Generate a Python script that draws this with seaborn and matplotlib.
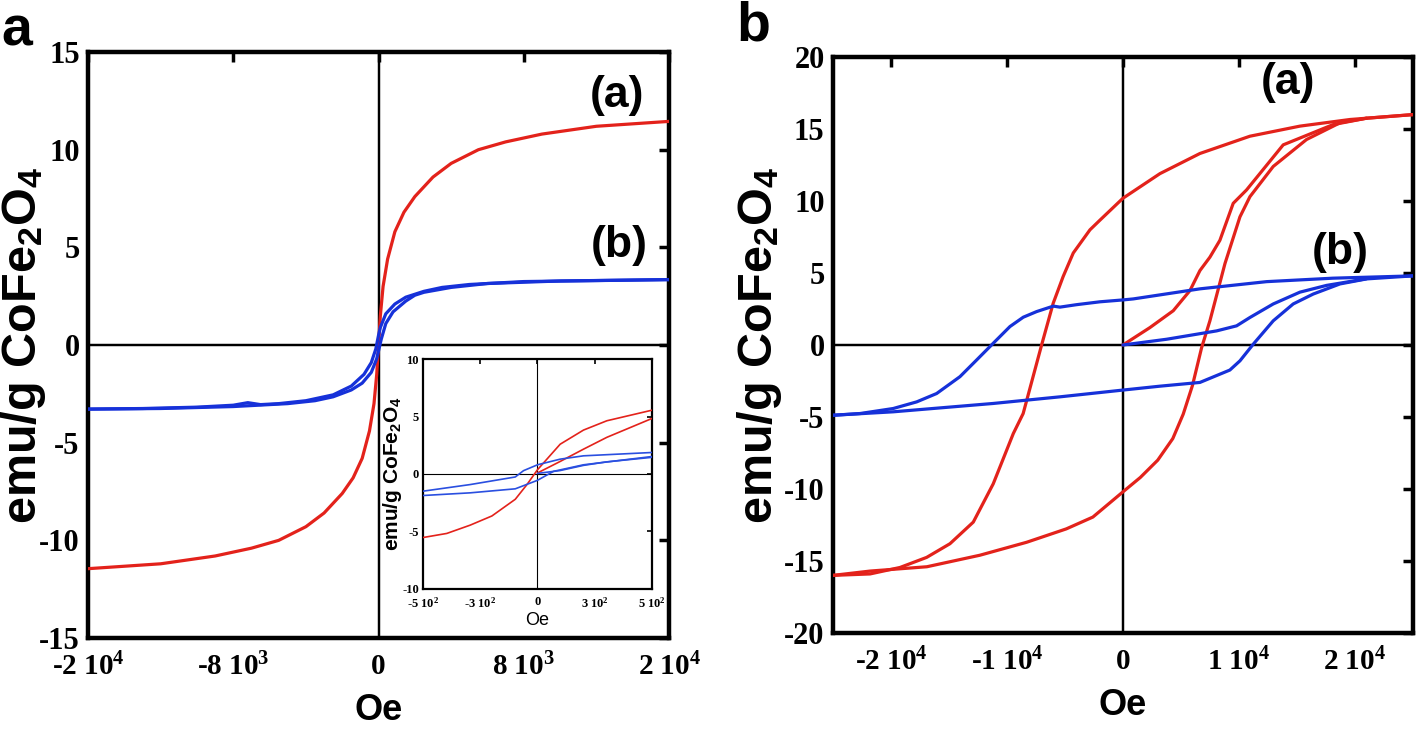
import matplotlib
matplotlib.use('Agg')
import matplotlib.pyplot as plt
import seaborn as sns

# ---- panel a, main plot (Oe vs emu/g) ----
a_red_x = [-16000, -12000, -9000, -7000, -5500, -4000, -3000, -2000, -1400, -900, -500, -250, -100, 0,
           100, 250, 500, 900, 1400, 2000, 3000, 4000, 5500, 7000, 9000, 12000, 16000]
a_red_y = [-11.45, -11.2, -10.8, -10.4, -10.0, -9.3, -8.6, -7.6, -6.8, -5.8, -4.4, -3.0, -1.5, 0,
           1.5, 3.0, 4.4, 5.8, 6.8, 7.6, 8.6, 9.3, 10.0, 10.4, 10.8, 11.2, 11.45]

a_blue_down_x = [16000, 12000, 8000, 5000, 3500, 2500, 1500, 900, 400, 100, 0, -150, -400, -800,
                 -1500, -2500, -4000, -5500, -6500, -7200, -8000, -10000, -13000, -16000]
a_blue_down_y = [3.35, 3.3, 3.25, 3.1, 2.95, 2.75, 2.45, 2.1, 1.6, 0.9, 0.5, -0.2, -0.9, -1.5,
                 -2.1, -2.55, -2.85, -3.0, -3.05, -2.95, -3.08, -3.18, -3.25, -3.28]
a_blue_up_x = [-16000, -12000, -8000, -5000, -3500, -2500, -1500, -900, -400, -100, 0, 150, 400, 800,
               1500, 2000, 2500, 4000, 6000, 10000, 16000]
a_blue_up_y = [-3.28, -3.25, -3.15, -3.0, -2.85, -2.65, -2.3, -1.95, -1.4, -0.7, -0.3, 0.3, 1.1, 1.7,
               2.25, 2.55, 2.7, 2.95, 3.15, 3.28, 3.35]

a_xticks = [-16000, -8000, 0, 8000, 16000]
a_xlabels = ['-2 10$^{4}$', '-8 10$^{3}$', '0', '8 10$^{3}$', '2 10$^{4}$']
a_yticks = [-15, -10, -5, 0, 5, 10, 15]

# ---- panel a, inset (low field) ----
in_red_x = [-498, -396, -294, -199, -97, -46, 0, 99, 201, 303, 500]
in_red_y = [-5.52, -5.17, -4.45, -3.65, -2.2, -0.92, 0.37, 2.59, 3.82, 4.63, 5.55]
in_red2_x = [0, 99, 201, 303, 500]
in_red2_y = [0.09, 1.09, 2.16, 3.19, 4.83]
in_blue1_x = [-498, -294, -97, -61, 0, 99, 201, 500]
in_blue1_y = [-1.49, -0.92, -0.26, 0.29, 0.8, 1.29, 1.58, 1.87]
in_blue2_x = [-498, -294, -97, 0, 70, 201, 500]
in_blue2_y = [-1.87, -1.64, -1.29, -0.55, 0.23, 0.8, 1.52]
in_blue3_x = [0, 99, 201, 300, 500]
in_blue3_y = [0.05, 0.3, 0.75, 1.05, 1.45]

in_xticks = [-500, -250, 0, 250, 500]
in_xlabels = ['-5 10$^{2}$', '-3 10$^{2}$', '0', '3 10$^{2}$', '5 10$^{2}$']
in_yticks = [-10, -5, 0, 5, 10]

# ---- panel b (hysteresis loops) ----
b_red_down_x = [25000, 19570, 15260, 10950, 6640, 3190, 0, -1980, -2840, -4280, -5150, -6010, -7010,
                -8600, -9450, -11180, -12900, -14910, -16920, -19220, -21800, -25000]
b_red_down_y = [16.0, 15.66, 15.2, 14.5, 13.3, 11.9, 10.19, 8.67, 8.0, 6.39, 4.76, 2.9, 0,
                -4.76, -6.15, -9.64, -12.3, -13.8, -14.75, -15.45, -15.9, -16.0]
b_red_up_x = [-25000, -21800, -16900, -12330, -8300, -4880, -2590, 0, 1500, 3000, 4300, 5200, 6000,
              6780, 7500, 8800, 10090, 10950, 12960, 15830, 18710, 21000, 25000]
b_red_up_y = [-16.0, -15.7, -15.4, -14.6, -13.7, -12.77, -11.95, -10.2, -9.2, -8.0, -6.5, -4.8, -2.8,
              -0.2, 1.68, 5.66, 8.9, 10.3, 12.4, 14.27, 15.43, 15.75, 16.0]
b_red_virgin_x = [0, 2330, 4340, 5780, 6640, 7500, 8360, 9510, 10660, 13820, 18100, 21000]
b_red_virgin_y = [0, 1.21, 2.38, 3.78, 5.17, 6.1, 7.27, 9.84, 10.77, 13.9, 15.3, 15.75]

b_blue_down_x = [25000, 18100, 12390, 6640, 3190, 890, 0, -1980, -4000, -5430, -6000, -7440, -8590,
                 -9740, -11180, -12610, -14050, -16060, -17780, -19800, -22670, -25000]
b_blue_down_y = [4.8, 4.64, 4.4, 3.9, 3.48, 3.2, 3.13, 3.0, 2.8, 2.63, 2.7, 2.32, 1.93,
                 1.28, 0.12, -1.04, -2.2, -3.37, -3.95, -4.41, -4.76, -4.88]
b_blue_up_x = [-25000, -19800, -11180, -5430, 0, 3190, 6640, 9220, 10090, 11230, 12960, 14680,
               16410, 18710, 21010, 25000]
b_blue_up_y = [-4.88, -4.64, -4.06, -3.6, -3.13, -2.86, -2.6, -1.74, -1.1, 0.05, 1.68, 2.85,
               3.54, 4.24, 4.59, 4.8]
b_blue_virgin_x = [0, 3770, 8080, 9800, 10950, 12960, 15260, 17560, 21000]
b_blue_virgin_y = [0, 0.4, 0.98, 1.33, 1.91, 2.85, 3.67, 4.14, 4.6]

b_xticks = [-20000, -10000, 0, 10000, 20000]
b_xlabels = ['-2 10$^{4}$', '-1 10$^{4}$', '0', '1 10$^{4}$', '2 10$^{4}$']
b_yticks = [-20, -15, -10, -5, 0, 5, 10, 15, 20]

RED = '#e3221b'
BLUE = '#1631d9'
YLABEL = 'emu/g CoFe$_{\\mathsf{2}}$O$_{\\mathsf{4}}$'

sns.set_style("white")
plt.rcParams['font.family'] = ['Liberation Serif', 'DejaVu Serif']
plt.rcParams['font.weight'] = 'bold'
plt.rcParams['mathtext.fontset'] = 'custom'
plt.rcParams['mathtext.rm'] = 'Liberation Serif:bold'
plt.rcParams['mathtext.sf'] = 'Liberation Sans:bold'
plt.rcParams['mathtext.default'] = 'rm'
plt.rcParams['axes.unicode_minus'] = False
for key in ['text.color', 'axes.labelcolor', 'xtick.color', 'ytick.color']:
    plt.rcParams[key] = 'black'

fig = plt.figure(figsize=(14.18, 7.30), dpi=100)


def style_axes(ax, spine_w, tick_len, tick_w, labelsize):
    for s in ax.spines.values():
        s.set_visible(True)
        s.set_linewidth(spine_w)
        s.set_color('black')
    ax.tick_params(direction='in', top=True, right=True, length=tick_len, width=tick_w,
                   labelsize=labelsize, colors='black', pad=6)
    ax.axhline(0, color='black', lw=spine_w * 0.55, zorder=1)
    ax.axvline(0, color='black', lw=spine_w * 0.55, zorder=1)
    ax.grid(False)


def draw(ax, xs, ys, color, lw):
    sns.lineplot(x=xs, y=ys, sort=False, estimator=None, color=color, linewidth=lw, ax=ax, zorder=3)


# panel a
ax1 = fig.add_axes([0.0621, 0.126, 0.4097, 0.8027])
draw(ax1, a_red_x, a_red_y, RED, 2.3)
draw(ax1, a_blue_down_x, a_blue_down_y, BLUE, 2.3)
draw(ax1, a_blue_up_x, a_blue_up_y, BLUE, 2.3)
ax1.set_xlim(-16000, 16000)
ax1.set_ylim(-15, 15)
ax1.set_xticks(a_xticks, a_xlabels)
ax1.set_yticks(a_yticks)
style_axes(ax1, 3.2, 7, 2.5, 22)
ax1.tick_params(axis='x', labelsize=21, pad=11)
ax1.set_xlabel('Oe', family='Liberation Sans', fontsize=26, fontweight='bold', labelpad=8)
ax1.set_ylabel(YLABEL, family='Liberation Sans', fontsize=35, fontweight='bold')
ax1.yaxis.set_label_coords(-0.069, 0.5)
ax1.text(0.91, 0.925, '(a)', transform=ax1.transAxes, ha='center', va='center',
         family='Liberation Sans', fontsize=32, fontweight='bold')
ax1.text(0.915, 0.67, '(b)', transform=ax1.transAxes, ha='center', va='center',
         family='Liberation Sans', fontsize=32, fontweight='bold')

# inset
axi = fig.add_axes([0.2983, 0.1932, 0.1615, 0.315])
axi.set_facecolor('white')
draw(axi, in_red_x, in_red_y, RED, 1.2)
draw(axi, in_red2_x, in_red2_y, RED, 1.2)
draw(axi, in_blue1_x, in_blue1_y, '#2a4fe0', 1.2)
draw(axi, in_blue2_x, in_blue2_y, '#2a4fe0', 1.2)
draw(axi, in_blue3_x, in_blue3_y, '#2a4fe0', 1.2)
axi.set_xlim(-500, 500)
axi.set_ylim(-10, 10)
axi.set_xticks(in_xticks, in_xlabels)
axi.set_yticks(in_yticks)
style_axes(axi, 1.6, 3.5, 1.2, 9)
axi.tick_params(axis='y', pad=3)
axi.tick_params(axis='x', pad=5)
for ln in axi.lines[-2:]:
    ln.set_linewidth(0.8)
axi.set_xlabel('Oe', family='Liberation Sans', fontsize=13, fontweight='normal', labelpad=1)
axi.set_ylabel(YLABEL, family='Liberation Sans', fontsize=15, fontweight='bold')
axi.yaxis.set_label_coords(-0.083, 0.5)

# panel b
ax2 = fig.add_axes([0.5874, 0.1329, 0.409, 0.789])
draw(ax2, b_red_down_x, b_red_down_y, RED, 2.3)
draw(ax2, b_red_up_x, b_red_up_y, RED, 2.3)
draw(ax2, b_red_virgin_x, b_red_virgin_y, RED, 2.3)
draw(ax2, b_blue_down_x, b_blue_down_y, BLUE, 2.3)
draw(ax2, b_blue_up_x, b_blue_up_y, BLUE, 2.3)
draw(ax2, b_blue_virgin_x, b_blue_virgin_y, BLUE, 2.3)
ax2.set_xlim(-25000, 25000)
ax2.set_ylim(-20, 20)
ax2.set_xticks(b_xticks, b_xlabels)
ax2.set_yticks(b_yticks)
style_axes(ax2, 3.2, 7, 2.5, 22)
ax2.tick_params(axis='x', labelsize=21, pad=11)
ax2.set_xlabel('Oe', family='Liberation Sans', fontsize=26, fontweight='bold', labelpad=8)
ax2.set_ylabel(YLABEL, family='Liberation Sans', fontsize=35, fontweight='bold')
ax2.yaxis.set_label_coords(-0.085, 0.5)
ax2.text(0.785, 0.955, '(a)', transform=ax2.transAxes, ha='center', va='center',
         family='Liberation Sans', fontsize=32, fontweight='bold')
ax2.text(0.875, 0.66, '(b)', transform=ax2.transAxes, ha='center', va='center',
         family='Liberation Sans', fontsize=32, fontweight='bold')

# panel letters
fig.text(0.001, 0.993, 'a', family='Liberation Sans', fontsize=40, fontweight='bold', va='top')
fig.text(0.519, 0.999, 'b', family='Liberation Sans', fontsize=40, fontweight='bold', va='top')

fig.savefig('out.png', dpi=100, facecolor='white')
plt.close(fig)
